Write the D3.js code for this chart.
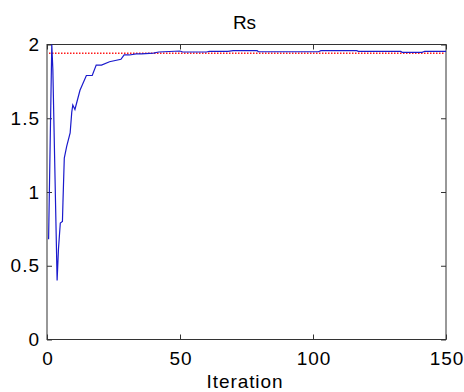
<!DOCTYPE html>
<html><head><meta charset="utf-8">
<script src="https://cdn.jsdelivr.net/npm/d3@7"></script>
<style>body{margin:0;background:#fff}svg{display:block}text{font-family:"Liberation Sans",Arial,sans-serif}</style>
</head><body><svg id="c" width="464" height="392"></svg>
<script>
const xTicks = [0, 50, 100, 150];
const yTicks = [0, 0.5, 1, 1.5, 2];
const yTickLabels = ["0", "0.5", "1", "1.5", "2"];
const iterations = [0.6, 1.8, 2.2, 2.9, 3.8, 4.3, 5, 5.8, 6, 6.5, 7.4, 8.7, 9.3, 9.7, 10.5, 12.4, 14.8, 17, 18.5, 20.5, 23.5, 27.8, 29, 31, 33.5, 35.5, 40, 42, 50, 51, 60, 61, 68, 70, 79, 79.5, 102, 103, 116.5, 117, 133, 133.5, 141, 142, 150];
const rsValues = [0.68, 2.0, 1.83, 1.2, 0.40, 0.61, 0.79, 0.80, 0.93, 1.23, 1.31, 1.40, 1.54, 1.59, 1.56, 1.69, 1.79, 1.79, 1.86, 1.86, 1.883, 1.90, 1.929, 1.929, 1.936, 1.936, 1.942, 1.949, 1.956, 1.949, 1.949, 1.954, 1.954, 1.958, 1.958, 1.951, 1.951, 1.958, 1.958, 1.954, 1.954, 1.947, 1.947, 1.954, 1.954];
const reference = 1.94;
const title = "Rs";
const xLabel = "Iteration";

const svg = d3.select("#c");
const L = 47, R = 446, T = 44.5, B = 339.5;
const x = d3.scaleLinear().domain([0, 150]).range([L, R]);
const y = d3.scaleLinear().domain([0, 2]).range([B, T]);
const axisColor = "#333";
const fs = 19;

svg.append("rect").attr("x", L).attr("y", T).attr("width", R - L).attr("height", B - T)
  .attr("fill", "none").attr("stroke", axisColor).attr("stroke-width", 1);

function styleAxis(g) {
  g.select(".domain").remove();
  g.selectAll("line").attr("stroke", axisColor);
  g.selectAll("text").attr("fill", "#000").style("font-size", fs + "px")
    .style("letter-spacing", "1px").style("font-family", '"Liberation Sans", Arial, sans-serif');
}
const ax = svg.append("g").attr("transform", `translate(0,${B})`)
  .call(d3.axisBottom(x).tickValues(xTicks).tickSize(-5).tickPadding(12).tickFormat(d3.format("d")));
styleAxis(ax);
ax.selectAll("text").attr("dy", "0.71em").attr("dx", "0.5px");
const axT = svg.append("g").attr("transform", `translate(0,${T})`)
  .call(d3.axisTop(x).tickValues(xTicks).tickSize(-5).tickFormat(""));
styleAxis(axT);
const ay = svg.append("g").attr("transform", `translate(${L},0)`)
  .call(d3.axisLeft(y).tickValues(yTicks).tickSize(-5).tickPadding(7).tickFormat((d, i) => yTickLabels[i]));
styleAxis(ay);
const ayR = svg.append("g").attr("transform", `translate(${R},0)`)
  .call(d3.axisRight(y).tickValues(yTicks).tickSize(-5).tickFormat(""));
styleAxis(ayR);

// reference line
svg.append("line").attr("x1", x(0) + 2).attr("x2", x(150) - 1)
  .attr("y1", y(reference)).attr("y2", y(reference))
  .attr("stroke", "#ff1a1a").attr("stroke-width", 1.5).attr("stroke-dasharray", "1.5,1.5");

// series
const line = d3.line().x((d, i) => x(iterations[i])).y(d => y(d));
svg.append("path").datum(rsValues).attr("d", line).attr("fill", "none")
  .attr("stroke", "#1a1acc").attr("stroke-width", 1.2);

svg.append("text").attr("x", 244.5).attr("y", 29).attr("text-anchor", "middle")
  .style("font-size", fs + "px").text(title);
svg.append("text").attr("x", 245).attr("y", 388).attr("text-anchor", "middle")
  .style("font-size", fs + "px").style("letter-spacing", "0.9px").text(xLabel);
</script></body></html>
